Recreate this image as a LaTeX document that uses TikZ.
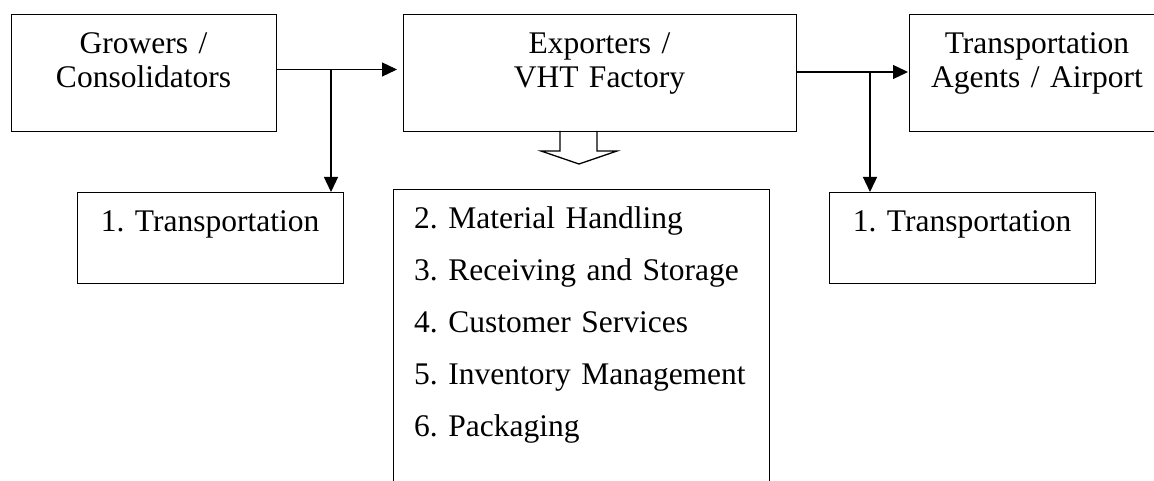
\documentclass[tikz,border=0pt]{standalone}
\usepackage{fontspec}
\setmainfont{Liberation Serif}
\frenchspacing
\usetikzlibrary{arrows.meta}
\begin{document}
\begin{tikzpicture}[x=1pt,y=-1pt,
  box/.style={draw, line width=1.3pt, inner sep=0pt, anchor=north west},
  lbl/.style={font=\fontsize{31.5}{34}\selectfont\frenchspacing, inner sep=0pt, text width=300pt, align=center, anchor=base},
  lst/.style={font=\fontsize{31.5}{51.8}\selectfont\frenchspacing, inner sep=0pt, text width=350pt, align=left, anchor=base west},
  conn/.style={line width=1.3pt, -{Triangle[length=15pt,width=14pt]}},
  hollow/.style={line width=1.3pt, line join=miter}
]
\useasboundingbox (0,0) rectangle (1154,481);
\clip (0,0) rectangle (1154,481);
\fill[white] (0,0) rectangle (1154,481);
% boxes
\node[box, minimum width=265pt, minimum height=117pt] (grow) at (11,14) {};
\node[box, minimum width=393pt, minimum height=117pt] (exp) at (403,14) {};
\node[box, minimum width=270pt, minimum height=117pt] (agt) at (909,14) {};
\node[box, minimum width=266pt, minimum height=91pt] (tl) at (77,192) {};
\node[box, minimum width=266pt, minimum height=91pt] (tr) at (829,192) {};
\node[box, minimum width=376pt, minimum height=320pt] (list) at (393,189) {};
% texts
\node[lbl] (growT) at (143.5,54) {Growers /\\Consolidators};
\node[lbl] (expT) at (599.5,54) {Exporters /\\VHT Factory};
\node[lbl] (agtT) at (1037,54) {Transportation\\Agents / Airport};
\node[lbl] (tlT) at (210,232) {1. Transportation};
\node[lbl] (trT) at (962,232) {1. Transportation};
\node[lst] (listT) at (414,229) {2. Material Handling\\3. Receiving and Storage\\4. Customer Services\\5. Inventory Management\\6. Packaging};
% connectors
\coordinate (j1) at (331,69.5);
\coordinate (j2) at (870,72);
\draw[conn, shorten >=6pt] (grow.east |- j1) -- (exp.west |- j1);
\draw[conn] (j1) -- (j1 |- tl.north);
\draw[conn, shorten >=1pt] (exp.east |- j2) -- (agt.west |- j2);
\draw[conn] (j2) -- (j2 |- tr.north);
% hollow block arrow
\coordinate (ha) at (579,131);
\draw[hollow] (ha) ++(-19,0) -- ++(0,20) -- ++(-19,0) -- (579,164) -- (617,151) -- (597,151) -- (597,131);
\end{tikzpicture}
\end{document}
